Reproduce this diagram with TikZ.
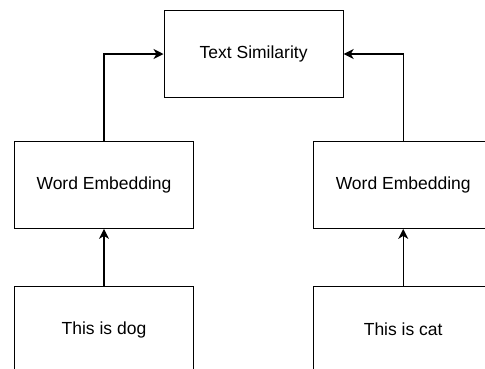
\documentclass[tikz,border=0pt]{standalone}
\usepackage{fontspec}
\setmainfont{Liberation Sans}
\usetikzlibrary{positioning, arrows.meta, calc}

\begin{document}
\begin{tikzpicture}[
        node distance = 56.7pt and 119pt,
        box/.style   = {draw, line width=1.2pt, minimum height=86.6pt, minimum width=179pt, align=center, font=\fontsize{17.5}{21}\selectfont},
        arrow/.style = {-{Stealth[length=10pt, width=10pt, inset=3pt]}, line width=1.2pt},
    ]
        \path[use as bounding box, clip] (0,0) rectangle (485pt,-368pt);
        % Embeddings
        \node[box] (embl) at (104pt,-185pt) {Word Embedding};
        \node[box, right=of embl] (embr) {Word Embedding};
        % Sentences
        \node[box, below=of embl] (dog) {This is dog};
        \node[box, below=of embr] (cat) {This is cat};
        % Similarity
        \node[box, above=43.2pt of $(embl.north)!0.5!(embr.north)$] (sim) {Text Similarity};

        % Arrows
        \draw[arrow] (dog) -- (embl);
        \draw[arrow] (cat) -- (embr);
        \draw[arrow] (embl.north) |- (sim.west);
        \draw[arrow] (embr.north) |- (sim.east);
    \end{tikzpicture}
\end{document}
